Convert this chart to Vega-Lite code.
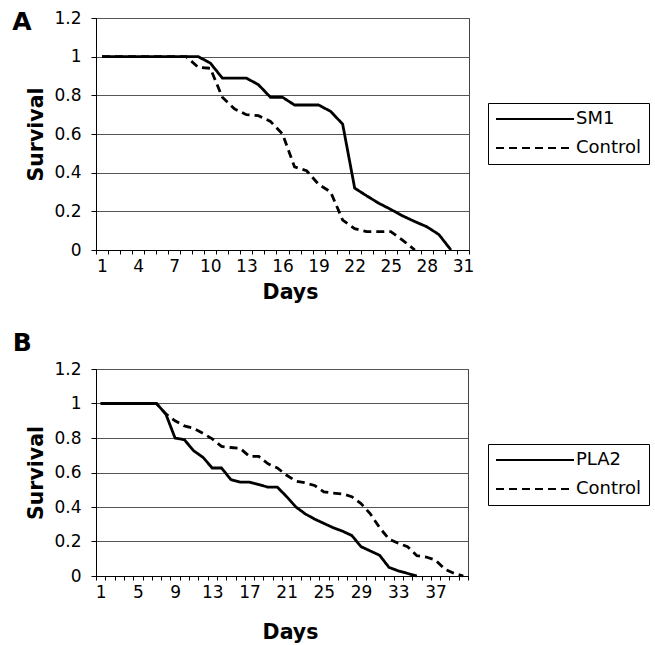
{
  "$schema": "https://vega.github.io/schema/vega-lite/v6.json",
  "background": "white",
  "padding": {"left": 11, "top": 8, "right": 0, "bottom": 0},
  "config": {
    "font": "DejaVu Sans",
    "view": {"stroke": "#444", "strokeWidth": 1},
    "axis": {
      "labelFont": "DejaVu Sans", "labelFontSize": 17, "labelColor": "#000",
      "titleFont": "DejaVu Sans", "titleFontSize": 20.5, "titleFontWeight": "bold", "titleColor": "#000",
      "domainColor": "#000", "tickColor": "#000", "labelOverlap": false, "labelFlush": false, "labelBound": false
    },
    "legend": {
      "orient": "none", "title": null, "strokeColor": "#000", "fillColor": "white", "padding": 7,
      "symbolType": "stroke", "symbolSize": 64, "symbolStrokeWidth": 2, "symbolStrokeColor": "#000",
      "labelFont": "DejaVu Sans", "labelFontSize": 18, "labelColor": "#000", "labelOffset": 1, "rowPadding": 11, "cornerRadius": 0
    }
  },
  "datasets": {
    "a": [
      {"day": 1, "survival": 1, "group": "SM1"}, {"day": 2, "survival": 1, "group": "SM1"}, {"day": 3, "survival": 1, "group": "SM1"},
      {"day": 4, "survival": 1, "group": "SM1"}, {"day": 5, "survival": 1, "group": "SM1"}, {"day": 6, "survival": 1, "group": "SM1"},
      {"day": 7, "survival": 1, "group": "SM1"}, {"day": 8, "survival": 1, "group": "SM1"}, {"day": 9, "survival": 1, "group": "SM1"},
      {"day": 10, "survival": 0.967, "group": "SM1"}, {"day": 11, "survival": 0.889, "group": "SM1"}, {"day": 12, "survival": 0.889, "group": "SM1"},
      {"day": 13, "survival": 0.889, "group": "SM1"}, {"day": 14, "survival": 0.855, "group": "SM1"}, {"day": 15, "survival": 0.79, "group": "SM1"},
      {"day": 16, "survival": 0.79, "group": "SM1"}, {"day": 17, "survival": 0.75, "group": "SM1"}, {"day": 18, "survival": 0.75, "group": "SM1"},
      {"day": 19, "survival": 0.75, "group": "SM1"}, {"day": 20, "survival": 0.717, "group": "SM1"}, {"day": 21, "survival": 0.651, "group": "SM1"},
      {"day": 22, "survival": 0.32, "group": "SM1"}, {"day": 23, "survival": 0.28, "group": "SM1"}, {"day": 24, "survival": 0.242, "group": "SM1"},
      {"day": 25, "survival": 0.21, "group": "SM1"}, {"day": 26, "survival": 0.176, "group": "SM1"}, {"day": 27, "survival": 0.147, "group": "SM1"},
      {"day": 28, "survival": 0.12, "group": "SM1"}, {"day": 29, "survival": 0.08, "group": "SM1"}, {"day": 30, "survival": 0, "group": "SM1"},
      {"day": 1, "survival": 1, "group": "Control"}, {"day": 2, "survival": 1, "group": "Control"}, {"day": 3, "survival": 1, "group": "Control"},
      {"day": 4, "survival": 1, "group": "Control"}, {"day": 5, "survival": 1, "group": "Control"}, {"day": 6, "survival": 1, "group": "Control"},
      {"day": 7, "survival": 1, "group": "Control"}, {"day": 8, "survival": 1, "group": "Control"}, {"day": 9, "survival": 0.945, "group": "Control"},
      {"day": 10, "survival": 0.94, "group": "Control"}, {"day": 11, "survival": 0.79, "group": "Control"}, {"day": 12, "survival": 0.73, "group": "Control"},
      {"day": 13, "survival": 0.7, "group": "Control"}, {"day": 14, "survival": 0.695, "group": "Control"}, {"day": 15, "survival": 0.665, "group": "Control"},
      {"day": 16, "survival": 0.6, "group": "Control"}, {"day": 17, "survival": 0.43, "group": "Control"}, {"day": 18, "survival": 0.41, "group": "Control"},
      {"day": 19, "survival": 0.34, "group": "Control"}, {"day": 20, "survival": 0.3, "group": "Control"}, {"day": 21, "survival": 0.155, "group": "Control"},
      {"day": 22, "survival": 0.11, "group": "Control"}, {"day": 23, "survival": 0.095, "group": "Control"}, {"day": 24, "survival": 0.095, "group": "Control"},
      {"day": 25, "survival": 0.095, "group": "Control"}, {"day": 26, "survival": 0.05, "group": "Control"}, {"day": 27, "survival": 0, "group": "Control"}
    ],
    "b": [
      {"day": 1, "survival": 1, "group": "PLA2"}, {"day": 2, "survival": 1, "group": "PLA2"}, {"day": 3, "survival": 1, "group": "PLA2"},
      {"day": 4, "survival": 1, "group": "PLA2"}, {"day": 5, "survival": 1, "group": "PLA2"}, {"day": 6, "survival": 1, "group": "PLA2"},
      {"day": 7, "survival": 1, "group": "PLA2"}, {"day": 8, "survival": 0.94, "group": "PLA2"}, {"day": 9, "survival": 0.8, "group": "PLA2"},
      {"day": 10, "survival": 0.79, "group": "PLA2"}, {"day": 11, "survival": 0.726, "group": "PLA2"}, {"day": 12, "survival": 0.688, "group": "PLA2"},
      {"day": 13, "survival": 0.626, "group": "PLA2"}, {"day": 14, "survival": 0.626, "group": "PLA2"}, {"day": 15, "survival": 0.559, "group": "PLA2"},
      {"day": 16, "survival": 0.544, "group": "PLA2"}, {"day": 17, "survival": 0.544, "group": "PLA2"}, {"day": 18, "survival": 0.53, "group": "PLA2"},
      {"day": 19, "survival": 0.515, "group": "PLA2"}, {"day": 20, "survival": 0.515, "group": "PLA2"}, {"day": 21, "survival": 0.46, "group": "PLA2"},
      {"day": 22, "survival": 0.4, "group": "PLA2"}, {"day": 23, "survival": 0.36, "group": "PLA2"}, {"day": 24, "survival": 0.33, "group": "PLA2"},
      {"day": 25, "survival": 0.305, "group": "PLA2"}, {"day": 26, "survival": 0.28, "group": "PLA2"}, {"day": 27, "survival": 0.26, "group": "PLA2"},
      {"day": 28, "survival": 0.235, "group": "PLA2"}, {"day": 29, "survival": 0.17, "group": "PLA2"}, {"day": 30, "survival": 0.145, "group": "PLA2"},
      {"day": 31, "survival": 0.12, "group": "PLA2"}, {"day": 32, "survival": 0.05, "group": "PLA2"}, {"day": 33, "survival": 0.03, "group": "PLA2"},
      {"day": 34, "survival": 0.015, "group": "PLA2"}, {"day": 35, "survival": 0, "group": "PLA2"},
      {"day": 1, "survival": 1, "group": "Control"}, {"day": 2, "survival": 1, "group": "Control"}, {"day": 3, "survival": 1, "group": "Control"},
      {"day": 4, "survival": 1, "group": "Control"}, {"day": 5, "survival": 1, "group": "Control"}, {"day": 6, "survival": 1, "group": "Control"},
      {"day": 7, "survival": 1, "group": "Control"}, {"day": 8, "survival": 0.94, "group": "Control"}, {"day": 9, "survival": 0.9, "group": "Control"},
      {"day": 10, "survival": 0.87, "group": "Control"}, {"day": 11, "survival": 0.856, "group": "Control"}, {"day": 12, "survival": 0.827, "group": "Control"},
      {"day": 13, "survival": 0.795, "group": "Control"}, {"day": 14, "survival": 0.751, "group": "Control"}, {"day": 15, "survival": 0.745, "group": "Control"},
      {"day": 16, "survival": 0.74, "group": "Control"}, {"day": 17, "survival": 0.693, "group": "Control"}, {"day": 18, "survival": 0.693, "group": "Control"},
      {"day": 19, "survival": 0.65, "group": "Control"}, {"day": 20, "survival": 0.626, "group": "Control"}, {"day": 21, "survival": 0.584, "group": "Control"},
      {"day": 22, "survival": 0.55, "group": "Control"}, {"day": 23, "survival": 0.54, "group": "Control"}, {"day": 24, "survival": 0.525, "group": "Control"},
      {"day": 25, "survival": 0.488, "group": "Control"}, {"day": 26, "survival": 0.48, "group": "Control"}, {"day": 27, "survival": 0.476, "group": "Control"},
      {"day": 28, "survival": 0.46, "group": "Control"}, {"day": 29, "survival": 0.42, "group": "Control"}, {"day": 30, "survival": 0.36, "group": "Control"},
      {"day": 31, "survival": 0.28, "group": "Control"}, {"day": 32, "survival": 0.214, "group": "Control"}, {"day": 33, "survival": 0.19, "group": "Control"},
      {"day": 34, "survival": 0.17, "group": "Control"}, {"day": 35, "survival": 0.118, "group": "Control"}, {"day": 36, "survival": 0.11, "group": "Control"},
      {"day": 37, "survival": 0.093, "group": "Control"}, {"day": 38, "survival": 0.04, "group": "Control"}, {"day": 39, "survival": 0.015, "group": "Control"},
      {"day": 40, "survival": 0, "group": "Control"}
    ]
  },
  "spacing": 27,
  "resolve": {
    "scale": {"x": "independent", "y": "independent", "strokeDash": "independent"},
    "legend": {"strokeDash": "independent"}
  },
  "vconcat": [
    {
      "title": {"text": "A", "anchor": "end", "frame": "group", "orient": "left", "angle": 0, "align": "right", "font": "DejaVu Sans", "fontSize": 25, "fontWeight": "bold", "color": "#000", "baseline": "top", "offset": -24, "dy": -8},
      "width": 373,
      "height": 232,
      "data": {"name": "a"},
      "mark": {"type": "line", "color": "#000", "strokeWidth": 2.8},
      "encoding": {
        "x": {
          "field": "day", "type": "quantitative", "title": "Days",
          "scale": {"domain": [0.5, 31.5], "nice": false, "zero": false},
          "axis": {
            "values": [0.5, 1.5, 2.5, 3.5, 4.5, 5.5, 6.5, 7.5, 8.5, 9.5, 10.5, 11.5, 12.5, 13.5, 14.5, 15.5, 16.5, 17.5, 18.5, 19.5, 20.5, 21.5, 22.5, 23.5, 24.5, 25.5, 26.5, 27.5, 28.5, 29.5, 30.5, 31.5],
            "labelExpr": "(datum.value - 0.5) % 3 == 0 && datum.value < 31 ? '' + (datum.value + 0.5) : ''",
            "labelOffset": 6, "grid": false, "tickSize": 4, "labelPadding": 4, "titlePadding": 8, "titleX": 194
          }
        },
        "y": {
          "field": "survival", "type": "quantitative", "title": "Survival",
          "scale": {"domain": [0, 1.2], "nice": false},
          "axis": {
            "values": [0, 0.2, 0.4, 0.6, 0.8, 1, 1.2], "format": "~g",
            "grid": true, "gridColor": "#555", "gridWidth": 1,
            "tickSize": 5, "labelPadding": 10, "titlePadding": 7
          }
        },
        "strokeDash": {
          "field": "group", "type": "nominal",
          "scale": {"domain": ["SM1", "Control"], "range": [[1, 0], [8, 5]]},
          "legend": {
            "legendX": 392, "legendY": 85,
            "encode": {
              "symbols": {"update": {"size": {"value": 6084}, "y": {"value": 9}}},
              "labels": {"update": {"y": {"value": 9}}}
            }
          }
        }
      }
    },
    {
      "title": {"text": "B", "anchor": "end", "frame": "group", "orient": "left", "angle": 0, "align": "right", "font": "DejaVu Sans", "fontSize": 25, "fontWeight": "bold", "color": "#000", "baseline": "top", "offset": -24, "dy": -38},
      "width": 372,
      "height": 207,
      "data": {"name": "b"},
      "mark": {"type": "line", "color": "#000", "strokeWidth": 2.8},
      "encoding": {
        "x": {
          "field": "day", "type": "quantitative", "title": "Days",
          "scale": {"domain": [0.5, 40.5], "nice": false, "zero": false},
          "axis": {
            "values": [0.5, 1.5, 2.5, 3.5, 4.5, 5.5, 6.5, 7.5, 8.5, 9.5, 10.5, 11.5, 12.5, 13.5, 14.5, 15.5, 16.5, 17.5, 18.5, 19.5, 20.5, 21.5, 22.5, 23.5, 24.5, 25.5, 26.5, 27.5, 28.5, 29.5, 30.5, 31.5, 32.5, 33.5, 34.5, 35.5, 36.5, 37.5, 38.5, 39.5, 40.5],
            "labelExpr": "(datum.value - 0.5) % 4 == 0 && datum.value < 40 ? '' + (datum.value + 0.5) : ''",
            "labelOffset": 4.65, "grid": false, "tickSize": 4, "labelPadding": 4, "titlePadding": 22, "titleX": 194
          }
        },
        "y": {
          "field": "survival", "type": "quantitative", "title": "Survival",
          "scale": {"domain": [0, 1.2], "nice": false},
          "axis": {
            "values": [0, 0.2, 0.4, 0.6, 0.8, 1, 1.2], "format": "~g",
            "grid": true, "gridColor": "#555", "gridWidth": 1,
            "tickSize": 5, "labelPadding": 10, "titlePadding": 7
          }
        },
        "strokeDash": {
          "field": "group", "type": "nominal",
          "scale": {"domain": ["PLA2", "Control"], "range": [[1, 0], [8, 5]]},
          "legend": {
            "legendX": 392, "legendY": 75,
            "encode": {
              "symbols": {"update": {"size": {"value": 6084}, "y": {"value": 9}}},
              "labels": {"update": {"y": {"value": 9}}}
            }
          }
        }
      }
    }
  ]
}
